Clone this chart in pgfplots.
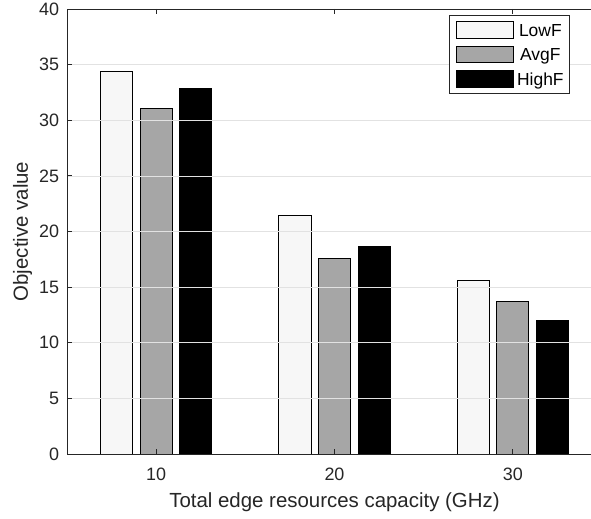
\documentclass[border=0pt]{standalone}
\usepackage{fontspec}
\setmainfont{Liberation Sans}
\usepackage{pgfplots}
\pgfplotsset{compat=1.18}
\definecolor{axc}{RGB}{38,38,38}
\definecolor{lowf}{RGB}{247,247,247}
\definecolor{avgf}{RGB}{166,166,166}
\definecolor{gridc}{RGB}{226,226,226}
\pgfplotsset{mylegend/.style={legend image code/.code={\draw[##1] (0bp,-8.25bp) rectangle (57bp,8.25bp);}}}
\begin{document}
\begin{tikzpicture}
\begin{axis}[
  scale only axis, width=535bp, height=445bp,
  xmin=5, xmax=35, ymin=0, ymax=40,
  xtick={10,20,30}, ytick={0,5,...,40},
  tick align=inside, major tick length=5bp,
  set layers, axis on top,
  ymajorgrids, grid style={gridc, line width=0.7bp, /pgfplots/on layer=axis background},
  axis line style={axc, line width=0.8bp},
  tick style={axc, line width=0.8bp},
  /pgf/number format/assume math mode=true,
  tick label style={font=\fontsize{18}{20}\selectfont, text=axc, inner sep=0pt},
  xticklabel style={anchor=north, yshift=-14bp},
  yticklabel style={anchor=east, xshift=-7.7bp},
  xlabel={Total edge resources capacity (GHz)},
  ylabel={Objective value},
  label style={font=\fontsize{20.5}{22}\selectfont, text=axc, inner sep=0pt},
  xlabel style={at={(axis description cs:0.5,-0.1213)}, anchor=base},
  ylabel style={at={(axis description cs:-0.0729,0.5)}, anchor=base},
  legend style={at={(axis description cs:0.9402,0.9865)}, anchor=north east,
    draw=axc, line width=0.8bp, fill=white,
    inner xsep=6bp, inner ysep=5.7bp, row sep=7.3bp, column sep=3.5bp,
    font=\fontsize{17.5}{19}\selectfont,
    nodes={inner sep=0pt, text height=12.5bp, text depth=0bp, anchor=center}},
  legend cell align=left,
]
\addplot[ybar, bar width=1.8, bar shift=-2.22, fill=lowf, draw=black, line width=0.8bp, mylegend]
  coordinates {(10,34.43) (20,21.47) (30,15.6)};
\addlegendentry{LowF}
\addplot[ybar, bar width=1.8, bar shift=0, fill=avgf, draw=black, line width=0.8bp, mylegend]
  coordinates {(10,31.05) (20,17.6) (30,13.68)};
\addlegendentry{AvgF}
\addplot[ybar, bar width=1.8, bar shift=2.22, fill=black, draw=black, line width=0.8bp, mylegend]
  coordinates {(10,32.87) (20,18.65) (30,12.0)};
\addlegendentry{HighF}
\end{axis}
\pgfresetboundingbox
\useasboundingbox (current axis.south west) ++(-67bp,-65bp) rectangle ++(591bp,519bp);
\end{tikzpicture}
\end{document}
